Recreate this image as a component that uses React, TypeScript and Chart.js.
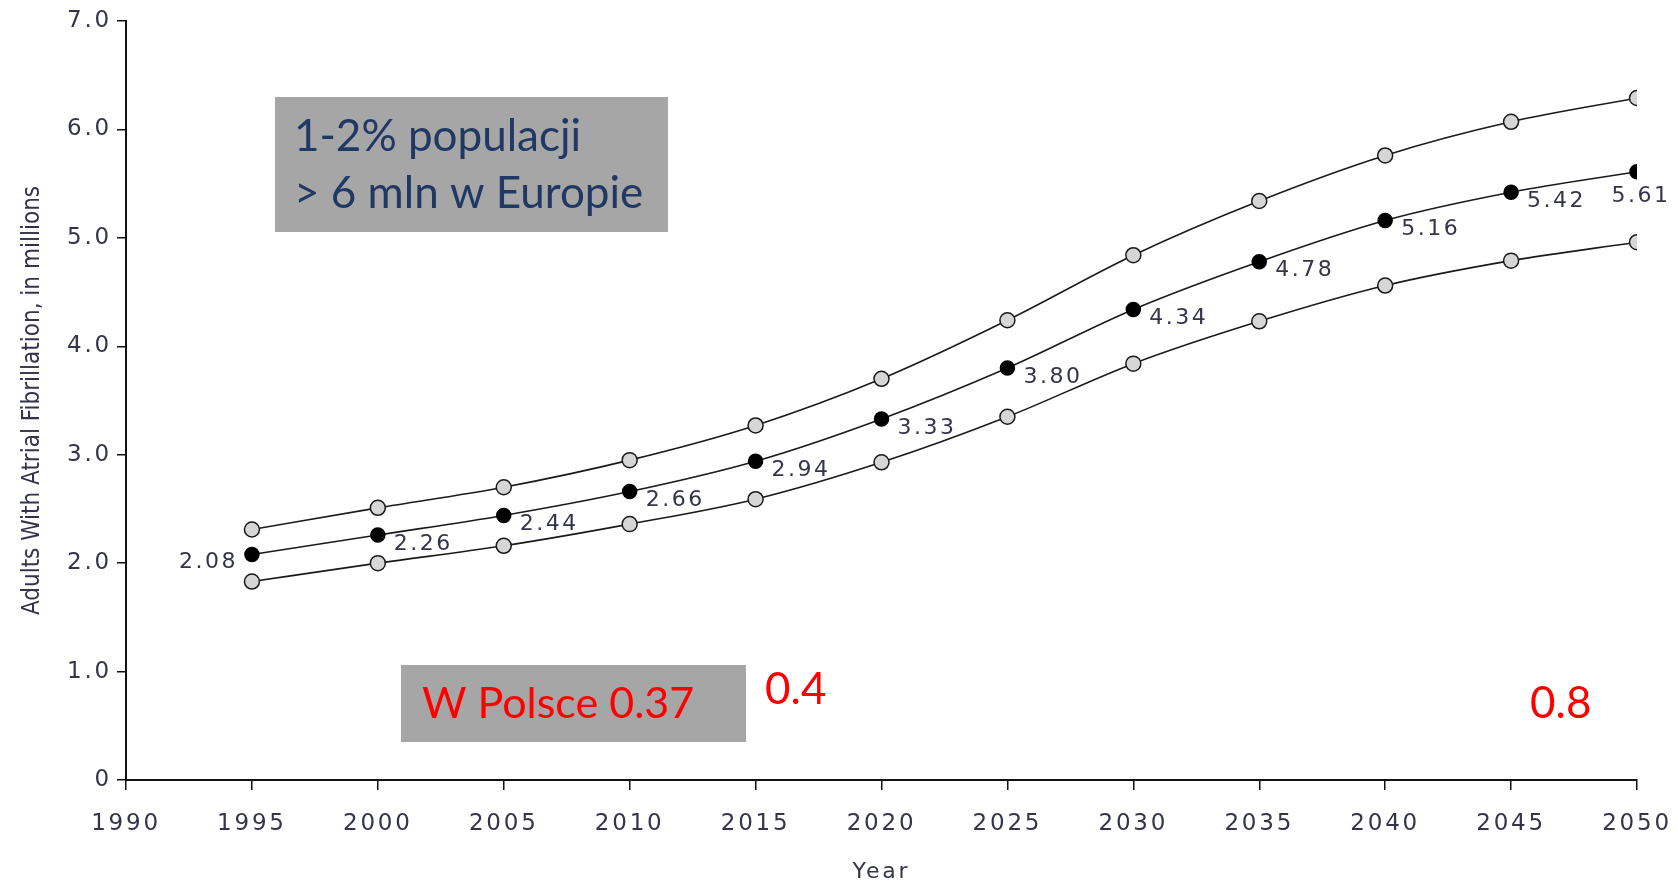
import React, { useEffect, useRef } from "react";
import { Chart, registerables } from "chart.js";

Chart.register(...registerables);

const years = [1995, 2000, 2005, 2010, 2015, 2020, 2025, 2030, 2035, 2040, 2045, 2050];
const upperValues = [2.31, 2.51, 2.70, 2.95, 3.27, 3.70, 4.24, 4.84, 5.34, 5.76, 6.07, 6.29];
const middleValues = [2.08, 2.26, 2.44, 2.66, 2.94, 3.33, 3.80, 4.34, 4.78, 5.16, 5.42, 5.61];
const lowerValues = [1.83, 2.00, 2.16, 2.36, 2.59, 2.93, 3.35, 3.84, 4.23, 4.56, 4.79, 4.96];
const yTickLabels: Record<number, string> = { 0: "0", 1: "1.0", 2: "2.0", 3: "3.0", 4: "4.0", 5: "5.0", 6: "6.0", 7: "7.0" };
const yTitle = "Adults With Atrial Fibrillation, in millions";
const xTitle = "Year";
const boxTopLines = ["1-2% populacji", "> 6 mln w Europie"];
const boxBottomText = "W Polsce 0.37";
const noteLeft = "0.4";
const noteRight = "0.8";

const TEXT_COLOR = "#35354a";
const NUM_FONT = "'DejaVu Sans', sans-serif";
const BOX_FONT = "Lato, 'Open Sans', sans-serif";
const NARROW_FONT = "'Liberation Sans Narrow', 'DejaVu Sans Condensed', sans-serif";

const toPoints = (vals: number[]) => years.map((x, i) => ({ x, y: vals[i] }));

const spacingPlugin = {
  id: "spacing",
  afterUpdate(chart: any) {
    const y = chart.scales.y;
    if (y && !y.__wrapped) {
      const orig = y.drawTitle.bind(y);
      y.drawTitle = function () {
        const c = chart.ctx;
        const prev = c.letterSpacing;
        c.letterSpacing = "0px";
        orig();
        c.letterSpacing = prev;
      };
      y.__wrapped = true;
    }
  },
  beforeDraw(chart: any) {
    chart.ctx.letterSpacing = "2.8px";
  },
};

const labelsPlugin = {
  id: "midLabels",
  afterDatasetsDraw(chart: any) {
    const ctx = chart.ctx;
    const meta = chart.getDatasetMeta(1);
    ctx.save();
    ctx.letterSpacing = "2.5px";
    ctx.font = `22px ${NUM_FONT}`;
    ctx.fillStyle = TEXT_COLOR;
    ctx.textBaseline = "middle";
    const n = meta.data.length;
    meta.data.forEach((pt: any, i: number) => {
      const txt = middleValues[i].toFixed(2);
      if (i === 0) {
        ctx.textAlign = "right";
        ctx.fillText(txt, pt.x - 14, pt.y + 8);
      } else if (i === n - 1) {
        ctx.textAlign = "center";
        ctx.fillText(txt, pt.x + 4, pt.y + 25);
      } else {
        ctx.textAlign = "left";
        ctx.fillText(txt, pt.x + 16, pt.y + 9);
      }
    });
    ctx.restore();
  },
};

const annotationPlugin = {
  id: "notes",
  afterDraw(chart: any) {
    const ctx = chart.ctx;
    ctx.save();
    ctx.letterSpacing = "0px";
    ctx.fillStyle = "#a6a6a6";
    ctx.fillRect(275, 97, 393, 135);
    ctx.fillRect(401, 665, 345, 77);
    ctx.textAlign = "left";
    ctx.textBaseline = "middle";
    ctx.font = `44px ${BOX_FONT}`;
    ctx.fillStyle = "#203864";
    ctx.fillText(boxTopLines[0], 294, 137);
    ctx.fillText(boxTopLines[1], 294, 194);
    ctx.fillStyle = "#ff0000";
    ctx.font = `43px ${BOX_FONT}`;
    ctx.fillText(boxBottomText, 422, 704);
    ctx.font = `44px ${BOX_FONT}`;
    ctx.fillText(noteLeft, 765, 690);
    ctx.fillText(noteRight, 1530, 704);
    ctx.restore();
  },
};

export default function App() {
  const ref = useRef<HTMLCanvasElement>(null);
  useEffect(() => {
    if (!ref.current) return;
    const lineCommon = {
      borderColor: "#1a1a1a",
      borderWidth: 1.6,
      cubicInterpolationMode: "monotone" as const,
      pointBorderColor: "#1a1a1a",
      pointBorderWidth: 1.5,
      fill: false,
    };
    const chart = new Chart(ref.current, {
      type: "line",
      data: {
        datasets: [
          { ...lineCommon, label: "upper", data: toPoints(upperValues), pointRadius: 7.5, pointBackgroundColor: "#d6d6d6" },
          { ...lineCommon, label: "middle", data: toPoints(middleValues), pointRadius: 7, pointBackgroundColor: "#000000", pointBorderColor: "#000000" },
          { ...lineCommon, label: "lower", data: toPoints(lowerValues), pointRadius: 7.5, pointBackgroundColor: "#d6d6d6" },
        ],
      },
      options: {
        animation: false,
        responsive: false,
        devicePixelRatio: 1,
        layout: { padding: { left: 0, right: 41, top: 21, bottom: 0 } },
        plugins: { legend: { display: false }, tooltip: { enabled: false } },
        scales: {
          x: {
            type: "linear",
            min: 1990,
            max: 2050,
            afterFit: (s: any) => { s.height = 105; s.paddingLeft = 0; s.paddingRight = 0; },
            border: { display: true, color: "#111", width: 2 },
            grid: { display: true, drawOnChartArea: false, drawTicks: true, tickLength: 10, tickColor: "#111", lineWidth: 1.5 },
            ticks: {
              stepSize: 5,
              color: TEXT_COLOR,
              font: { family: NUM_FONT, size: 23 },
              padding: 20,
              maxRotation: 0,
              callback: (v: any) => String(v),
            },
            title: { display: true, text: xTitle, color: TEXT_COLOR, font: { family: NUM_FONT, size: 22 }, padding: { top: 0, bottom: 0 } },
          },
          y: {
            type: "linear",
            min: 0,
            max: 7,
            afterFit: (s: any) => { s.width = 126; s.paddingTop = 0; s.paddingBottom = 0; },
            border: { display: true, color: "#111", width: 2 },
            grid: { display: true, drawOnChartArea: false, drawTicks: true, tickLength: 9, tickColor: "#111", lineWidth: 1.5 },
            ticks: {
              stepSize: 1,
              color: TEXT_COLOR,
              font: { family: NUM_FONT, size: 23 },
              padding: 5,
              callback: (v: any) => yTickLabels[v as number] ?? "",
            },
            title: {
              display: true,
              text: yTitle,
              color: TEXT_COLOR,
              font: { family: NARROW_FONT, size: 24 },
              padding: { top: 18, bottom: 0 },
            },
          },
        },
      },
      plugins: [spacingPlugin, labelsPlugin, annotationPlugin],
    });
    return () => chart.destroy();
  }, []);
  return (
    <div style={{ position: "fixed", left: 0, top: 0, width: 1678, height: 885, background: "#fff" }}>
      <canvas ref={ref} width={1678} height={885} style={{ display: "block" }} />
    </div>
  );
}
